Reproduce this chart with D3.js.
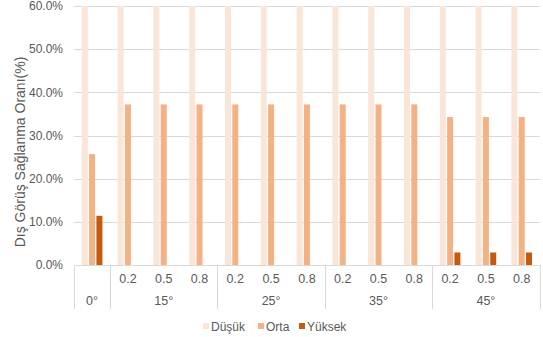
<!DOCTYPE html>
<html>
<head>
<meta charset="utf-8">
<script src="https://cdn.jsdelivr.net/npm/d3@7"></script>
<style>
  html, body { margin: 0; padding: 0; background: #fff; }
  svg text { font-family: "Liberation Sans", Arial, sans-serif; fill: #595959; }
</style>
</head>
<body>
<svg id="chart" width="543" height="337"></svg>
<script>
// Category structure: 0° stands alone, the other angles split into three ratios
const angles = ["0°", "15°", "25°", "35°", "45°"];
const ratios = ["0.2", "0.5", "0.8"];
const categories = ["0°",
  "15°/0.2", "15°/0.5", "15°/0.8",
  "25°/0.2", "25°/0.5", "25°/0.8",
  "35°/0.2", "35°/0.5", "35°/0.8",
  "45°/0.2", "45°/0.5", "45°/0.8"];

// Shares per category (%)
const dusuk  = [62.9, 62.8, 62.8, 62.8, 62.8, 62.8, 62.8, 62.8, 62.8, 62.8, 62.8, 62.8, 62.8];
const orta   = [25.7, 37.2, 37.2, 37.2, 37.2, 37.2, 37.2, 37.2, 37.2, 37.2, 34.3, 34.3, 34.3];
const yuksek = [11.4, 0.0, 0.0, 0.0, 0.0, 0.0, 0.0, 0.0, 0.0, 0.0, 2.9, 2.9, 2.9];

const seriesNames = ["Düşük", "Orta", "Yüksek"];
const seriesColors = ["#fbe5d6", "#f4b183", "#c55a11"];
const yTicks = [0, 10, 20, 30, 40, 50, 60];

const svg = d3.select("#chart");
const plot = { left: 74.2, right: 539.6, top: 6, bottom: 265 };

const x0 = d3.scaleBand().domain(categories).range([plot.left, plot.right]).padding(0);
const x1 = d3.scaleBand().domain(seriesNames).range([0, x0.bandwidth()])
  .paddingInner(0.18).paddingOuter(1.04);
const y = d3.scaleLinear().domain([0, 60]).range([plot.bottom, plot.top]);

// Horizontal gridlines
svg.append("g").selectAll("line").data(yTicks).join("line")
  .attr("x1", plot.left).attr("x2", plot.right)
  .attr("y1", d => Math.round(y(d)) + 0.5).attr("y2", d => Math.round(y(d)) + 0.5)
  .attr("stroke", "#d9d9d9").attr("stroke-width", 1);

// Y tick labels
svg.append("g").selectAll("text").data(yTicks).join("text")
  .attr("x", 63).attr("y", d => y(d))
  .attr("dy", "0.36em")
  .attr("text-anchor", "end")
  .style("font-size", "12px")
  .text(d => d3.format(".1f")(d) + "%");

// Y axis title
svg.append("text")
  .attr("transform", "translate(25,152) rotate(-90)")
  .attr("text-anchor", "middle")
  .style("font-size", "14px")
  .text("Dış Görüş Sağlanma Oranı(%)");

// Clip so bars above 60% are cut at the top of the plot
svg.append("clipPath").attr("id", "plotClip")
  .append("rect").attr("x", plot.left).attr("y", plot.top)
  .attr("width", plot.right - plot.left).attr("height", plot.bottom - plot.top);

const seriesData = [dusuk, orta, yuksek];
const barsG = svg.append("g").attr("clip-path", "url(#plotClip)");
seriesNames.forEach((name, si) => {
  barsG.append("g").selectAll("rect").data(seriesData[si]).join("rect")
    .attr("x", (d, i) => x0(categories[i]) + x1(name))
    .attr("width", x1.bandwidth())
    .attr("y", d => y(d))
    .attr("height", d => y(0) - y(d))
    .attr("fill", seriesColors[si]);
});

// Multi-level category axis
const axisG = svg.append("g");
axisG.append("line")
  .attr("x1", plot.left).attr("x2", plot.right)
  .attr("y1", plot.bottom + 0.5).attr("y2", plot.bottom + 0.5)
  .attr("stroke", "#d9d9d9");

// Group boundaries: left edge, after 0°, after each angle group
const boundaries = [plot.left, x0(categories[1])];
for (let g = 1; g < angles.length; g++) {
  boundaries.push(x0(categories[g * 3]) + x0.bandwidth());
}
axisG.selectAll("line.sep").data(boundaries).join("line")
  .attr("class", "sep")
  .attr("x1", d => Math.round(d) + 0.5).attr("x2", d => Math.round(d) + 0.5)
  .attr("y1", plot.bottom).attr("y2", 309)
  .attr("stroke", "#d9d9d9");

// Ratio labels (inner level)
axisG.selectAll("text.ratio").data(categories.slice(1)).join("text")
  .attr("class", "ratio")
  .attr("x", d => x0(d) + x0.bandwidth() / 2)
  .attr("y", 283)
  .attr("text-anchor", "middle")
  .style("font-size", "12.5px")
  .text(d => d.split("/")[1]);

// Angle labels (outer level)
const angleCenters = angles.map((a, i) => {
  if (i === 0) return x0(categories[0]) + x0.bandwidth() / 2;
  const first = x0(categories[(i - 1) * 3 + 1]);
  const last = x0(categories[(i - 1) * 3 + 3]) + x0.bandwidth();
  return (first + last) / 2;
});
axisG.selectAll("text.angle").data(angles).join("text")
  .attr("class", "angle")
  .attr("x", (d, i) => angleCenters[i])
  .attr("y", 305)
  .attr("text-anchor", "middle")
  .style("font-size", "12.5px")
  .text(d => d);

// Legend
const legendItems = [
  { name: "Düşük", x: 203 },
  { name: "Orta", x: 258 },
  { name: "Yüksek", x: 299 }
];
const lg = svg.append("g").selectAll("g").data(legendItems).join("g")
  .attr("transform", d => `translate(${d.x},0)`);
lg.append("rect").attr("x", 0).attr("y", 323).attr("width", 6).attr("height", 6)
  .attr("fill", (d, i) => seriesColors[i]);
lg.append("text").attr("x", 8).attr("y", 330.5)
  .style("font-size", "12px")
  .text(d => d.name);
</script>
</body>
</html>
